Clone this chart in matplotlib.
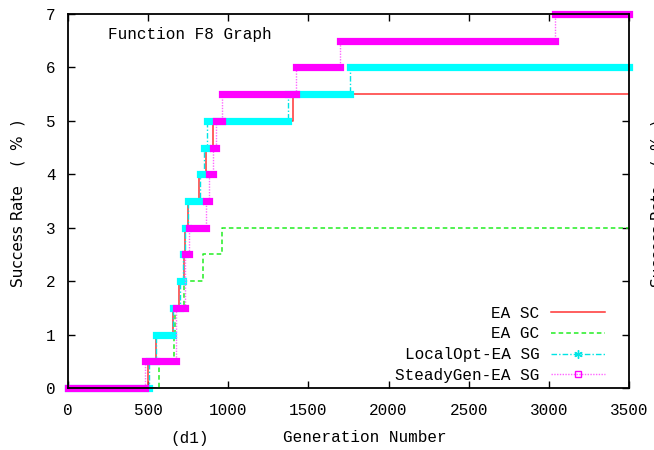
import matplotlib
matplotlib.use('Agg')
import matplotlib.pyplot as plt
from matplotlib.lines import Line2D

# generation where each level starts, and the success rate held from there
ea_sc_x = [0, 500, 550, 656, 694, 725, 731, 750, 819, 862, 906, 1406]
ea_sc_y = [0, 0.5, 1, 1.5, 2, 2.5, 3, 3.5, 4, 4.5, 5, 5.5]

ea_gc_x = [0, 569, 662, 668, 725, 844, 962]
ea_gc_y = [0, 0.5, 1, 1.5, 2, 2.5, 3]

localopt_x = [0, 505, 548, 652, 700, 718, 728, 750, 825, 850, 868, 1375, 1760]
localopt_y = [0, 0.5, 1, 1.5, 2, 2.5, 3, 3.5, 4, 4.5, 5, 5.5, 6]

steadygen_x = [0, 480, 672, 676, 728, 733, 758, 860, 880, 903, 922, 962, 1425, 1700, 3037]
steadygen_y = [0, 0.5, 1, 1.5, 2, 2.5, 3, 3.5, 4, 4.5, 5, 5.5, 6, 6.5, 7]

x_fin = 3500
mono = 'Liberation Mono'

fig = plt.figure(figsize=(6.54, 4.5), dpi=100)
ax = fig.add_axes([68/654, 1-388/450, 561/654, 374/450])


def degraus(x, y):
    return x + [x_fin], y + [y[-1]]


def barras(x, y, cor):
    fins = x[1:] + [x_fin]
    ax.hlines(y, x, fins, colors=cor, linewidth=5.2, capstyle='projecting',
              clip_on=False, zorder=4 if cor == '#ff00ff' else 3)


xs, ys = degraus(ea_sc_x, ea_sc_y)
ax.step(xs, ys, where='post', color='#ff3333', lw=1.1, zorder=2)

xs, ys = degraus(ea_gc_x, ea_gc_y)
ax.step(xs, ys, where='post', color='#22ee22', lw=1.1, ls=(0, (3, 2)), zorder=2)

xs, ys = degraus(localopt_x, localopt_y)
ax.step(xs, ys, where='post', color='#00e5e5', lw=1.0, ls=(0, (4, 1.5, 1, 1.5)), zorder=2)
barras(localopt_x, localopt_y, '#00ffff')

xs, ys = degraus(steadygen_x, steadygen_y)
ax.step(xs, ys, where='post', color='#ff66ff', lw=1.0, ls=(0, (1, 1)), zorder=3)
barras(steadygen_x, steadygen_y, '#ff00ff')

ax.set_xlim(0, 3500)
ax.set_ylim(0, 7)
ax.set_xticks(range(0, 3501, 500))
ax.set_yticks(range(0, 8))
ax.tick_params(direction='in', length=5, width=1, top=True, right=True, labelsize=11.5)
ax.tick_params(axis='x', pad=11)
ax.tick_params(axis='y', pad=9)
for lab in ax.get_xticklabels() + ax.get_yticklabels():
    lab.set_family(mono)
for s in ax.spines.values():
    s.set_linewidth(1.3)
    s.set_zorder(5)

ax.text((108-68)/561, 1-(35-14)/374, 'Function F8 Graph', transform=ax.transAxes,
        family=mono, fontsize=11.5, va='center', ha='left')

fig.text(190/654, 1-438/450, '(d1)', family=mono, fontsize=11.5, ha='center', va='center')
fig.text(365/654, 1-438/450, 'Generation Number', family=mono, fontsize=11.5, ha='center', va='center')
rotulo_y = 'Success Rate    (  %  )'
fig.text(18/654, 1-203/450, rotulo_y, family='DejaVu Sans', fontsize=11,
         rotation=90, ha='center', va='center')
fig.text(658/654, 1-203/450, rotulo_y, family='DejaVu Sans', fontsize=11,
         rotation=90, ha='center', va='center')

alças = [
    Line2D([], [], color='#ff3333', lw=1.1),
    Line2D([], [], color='#22ee22', lw=1.1, ls=(0, (3, 2))),
    Line2D([], [], color='#00e5e5', lw=1.0, ls=(0, (4, 1.5, 1, 1.5)), marker=(6, 2, 0),
           markersize=6),
    Line2D([], [], color='#ff66ff', lw=1.0, ls=(0, (1, 1)), marker='s', markersize=5,
           markerfacecolor='none', markeredgecolor='#ff00ff'),
]
rotulos = ['EA SC', 'EA GC', 'LocalOpt-EA SG', 'SteadyGen-EA SG']
leg = ax.legend(alças, rotulos, loc='lower right', bbox_to_anchor=(1-24/561, 5/374),
                frameon=False, markerfirst=False, handlelength=3.4, handletextpad=0.7,
                labelspacing=0.36, borderaxespad=0.0, numpoints=1, borderpad=0.0,
                prop={'family': mono, 'size': 11.5})

plt.savefig('out.png', dpi=100)
plt.close()
